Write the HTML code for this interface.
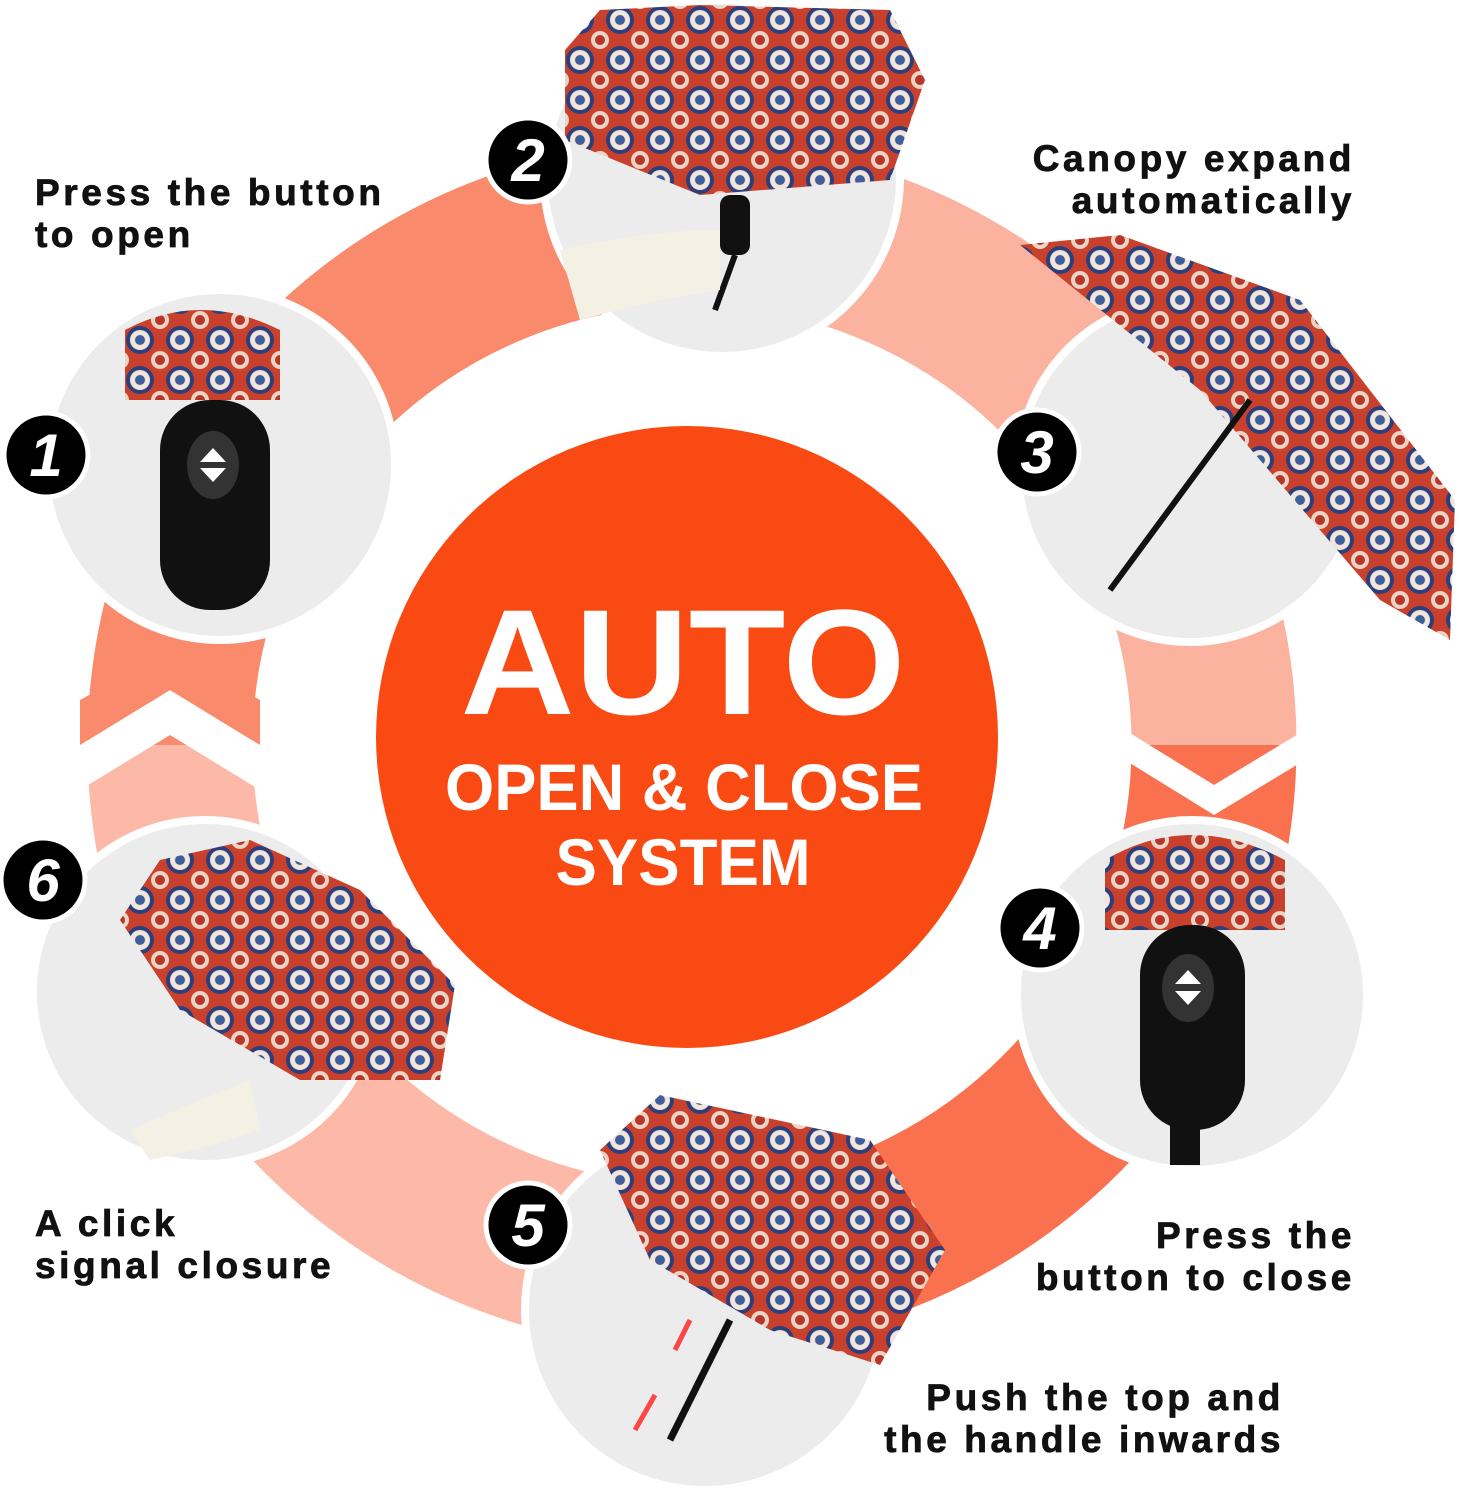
<!DOCTYPE html>
<html><head><meta charset="utf-8"><style>
html,body{margin:0;padding:0;background:#fff;}
body{width:1459px;height:1500px;position:relative;overflow:hidden;font-family:"Liberation Sans",sans-serif;}
.lbl{position:absolute;font-weight:bold;font-size:37px;line-height:42px;color:#111;letter-spacing:3.6px;-webkit-text-stroke:0.8px #111;}
</style></head><body>
<svg width="1459" height="1500" viewBox="0 0 1459 1500" style="position:absolute;left:0;top:0">
<defs>
<pattern id="pat" width="40" height="40" patternUnits="userSpaceOnUse">
<rect width="40" height="40" fill="#c9412c"/>
<circle cx="20" cy="20" r="14" fill="#2c3f7a"/>
<circle cx="20" cy="20" r="10" fill="#f2e6dc"/>
<circle cx="20" cy="20" r="5" fill="#3e5f9c"/>
<circle cx="0" cy="0" r="9" fill="#e8d5c6"/>
<circle cx="40" cy="0" r="9" fill="#e8d5c6"/>
<circle cx="0" cy="40" r="9" fill="#e8d5c6"/>
<circle cx="40" cy="40" r="9" fill="#e8d5c6"/>
<circle cx="0" cy="0" r="5" fill="#b8362a"/><circle cx="40" cy="40" r="5" fill="#b8362a"/>
<circle cx="40" cy="0" r="5" fill="#b8362a"/><circle cx="0" cy="40" r="5" fill="#b8362a"/>
</pattern>
</defs>
<g fill="none" stroke-width="165">
<path d="M 170 745 A 522 522 0 0 1 692 223" stroke="#f98a6b"/>
<path d="M 692 223 A 522 522 0 0 1 1214 745" stroke="#fbb3a0"/>
<path d="M 1214 745 A 522 522 0 0 1 692 1267" stroke="#f9714e"/>
<path d="M 692 1267 A 522 522 0 0 1 170 745" stroke="#fcb9a7"/>
</g>
<polygon points="80,745 170,690 260,745 260,790 170,735 80,790" fill="#fff"/>
<polygon points="80,700 170,650 260,700 260,745 170,690 80,745" fill="#f98a6b"/>
<polygon points="1125,730 1214,785 1305,730 1305,760 1214,815 1125,760" fill="#fff"/>
<circle cx="687" cy="737" r="311" fill="#fa4a14"/>
<text x="683" y="714" text-anchor="middle" font-family="Liberation Sans" font-weight="bold" font-size="150" fill="#fff" textLength="445" lengthAdjust="spacingAndGlyphs">AUTO</text>
<text x="684" y="810" text-anchor="middle" font-family="Liberation Sans" font-weight="bold" font-size="66" fill="#fff" textLength="478" lengthAdjust="spacingAndGlyphs">OPEN &amp; CLOSE</text>
<text x="683" y="885" text-anchor="middle" font-family="Liberation Sans" font-weight="bold" font-size="66" fill="#fff" textLength="255" lengthAdjust="spacingAndGlyphs">SYSTEM</text>

<g stroke="#fff" stroke-width="8" fill="#ececec">
<circle cx="220" cy="465" r="175"/>
<circle cx="722" cy="178" r="178"/>
<circle cx="1190" cy="470" r="172"/>
<circle cx="1192" cy="995" r="175"/>
<circle cx="705" cy="1310" r="180"/>
<circle cx="205" cy="992" r="172"/>
</g>
<path d="M125 330 Q200 290 280 330 L280 400 L125 400 Z" fill="url(#pat)"/>
<rect x="160" y="400" width="110" height="210" rx="50" fill="#111"/>
<ellipse cx="213" cy="465" rx="26" ry="34" fill="#333"/>
<polygon points="213,448 226,462 200,462" fill="#fff"/><polygon points="213,482 226,468 200,468" fill="#fff"/>
<polygon points="565,50 600,10 700,5 890,10 925,80 890,180 700,195 565,140" fill="url(#pat)"/>
<rect x="720" y="195" width="30" height="60" rx="10" fill="#111"/>
<line x1="735" y1="255" x2="715" y2="310" stroke="#111" stroke-width="6"/>
<path d="M560 250 Q650 230 720 230 L720 290 Q650 300 580 320 Z" fill="#f5f0e4"/>
<polygon points="1020,245 1120,235 1300,300 1455,500 1450,640 1380,600 1200,390" fill="url(#pat)"/>
<line x1="1110" y1="590" x2="1250" y2="400" stroke="#111" stroke-width="6"/>
<path d="M1105 860 Q1190 810 1285 860 L1285 930 L1105 930 Z" fill="url(#pat)"/>
<rect x="1140" y="925" width="105" height="205" rx="50" fill="#111"/>
<ellipse cx="1188" cy="988" rx="26" ry="34" fill="#333"/>
<polygon points="1188,970 1201,984 1175,984" fill="#fff"/><polygon points="1188,1005 1201,991 1175,991" fill="#fff"/>
<rect x="1170" y="1120" width="30" height="45" fill="#111"/>
<polygon points="600,1150 660,1095 870,1140 945,1250 880,1365 770,1330 650,1260" fill="url(#pat)"/>
<line x1="730" y1="1320" x2="670" y2="1440" stroke="#111" stroke-width="7"/>
<line x1="655" y1="1395" x2="635" y2="1430" stroke="#f44" stroke-width="5"/>
<line x1="690" y1="1320" x2="675" y2="1350" stroke="#f44" stroke-width="5"/>
<polygon points="120,920 160,860 250,840 360,890 455,985 440,1080 300,1080 180,1010" fill="url(#pat)"/>
<path d="M130 1130 Q200 1100 250 1080 L260 1130 Q200 1150 150 1160 Z" fill="#f5f0e4"/>

<g stroke="#fff" stroke-width="5" fill="#000">
<circle cx="46" cy="455" r="42"/>
<circle cx="528" cy="160" r="42"/>
<circle cx="1037" cy="452" r="42"/>
<circle cx="1040" cy="928" r="42"/>
<circle cx="528" cy="1225" r="42"/>
<circle cx="43" cy="880" r="42"/>
</g>
<g font-family="Liberation Sans" font-weight="bold" font-style="italic" font-size="60" fill="#fff" text-anchor="middle">
<text x="46" y="476">1</text>
<text x="528" y="181">2</text>
<text x="1037" y="473">3</text>
<text x="1040" y="949">4</text>
<text x="528" y="1246">5</text>
<text x="43" y="901">6</text>
</g>
</svg>
<div class="lbl" style="left:35px;top:172px">Press the button<br>to open</div>
<div class="lbl" style="right:104px;top:138px;text-align:right">Canopy expand<br>automatically</div>
<div class="lbl" style="left:35px;top:1203px">A click<br>signal closure</div>
<div class="lbl" style="right:104px;top:1215px;text-align:right">Press the<br>button to close</div>
<div class="lbl" style="right:175px;top:1377px;text-align:right">Push the top and<br>the handle inwards</div>
</body></html>
